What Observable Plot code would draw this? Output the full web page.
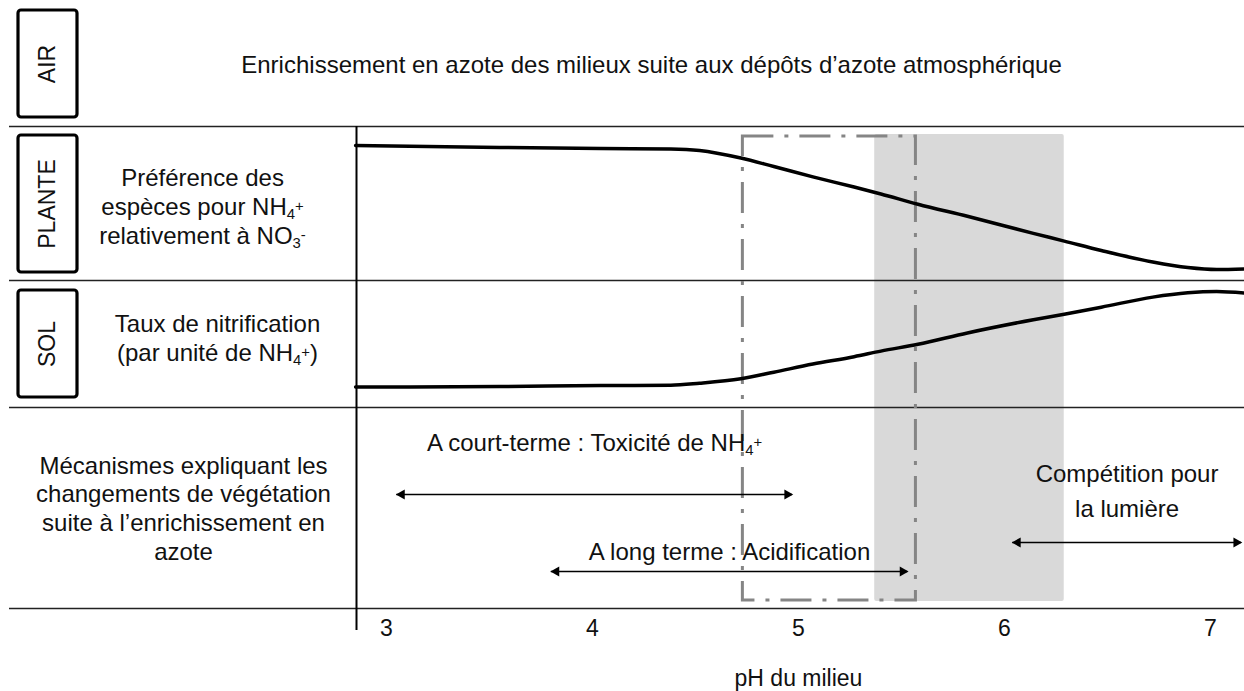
<!DOCTYPE html>
<html>
<head>
<meta charset="utf-8">
<script src="https://cdn.jsdelivr.net/npm/d3@7"></script>
<script src="https://cdn.jsdelivr.net/npm/@observablehq/plot@0.6"></script>
<style>
  html, body { margin: 0; padding: 0; background: #fff; }
  svg { display: block; }
</style>
</head>
<body>
<div id="chart"></div>
<script>
// ---------------- DATA ----------------
// pH axis tick labels
const phTicks = [3, 4, 5, 6, 7];
const axisTitle = "pH du milieu";

// pH sampling of the two curves
const curvePH = [2.85, 3.55, 4.04, 4.38, 4.52, 4.72, 4.88, 5.07, 5.27, 5.40, 5.58, 5.82, 6.14, 6.29, 6.47, 6.72, 6.89, 7.03, 7.17];
// PLANTE: preference for NH4+ relative to NO3- (relative level 0..1 within the row)
const planteLevel = [0.877, 0.864, 0.857, 0.854, 0.844, 0.795, 0.740, 0.673, 0.607, 0.562, 0.495, 0.417, 0.306, 0.256, 0.195, 0.120, 0.084, 0.071, 0.075];
// SOL: nitrification rate per unit NH4+ (relative level 0..1 within the row)
const solLevel = [0.161, 0.165, 0.173, 0.175, 0.191, 0.226, 0.278, 0.342, 0.400, 0.444, 0.498, 0.587, 0.691, 0.735, 0.790, 0.869, 0.903, 0.913, 0.900];

// pH ranges of the highlighted zones
const greyZone = [5.37, 6.29];
const dashedZone = [4.73, 5.57];

// mechanisms and their pH ranges
const mecLabels = ["A court-terme : Toxicité de NH₄⁺", "A long terme : Acidification", "Compétition pour\nla lumière"];
const mecFrom = [3.05, 3.80, 6.04];
const mecTo = [4.97, 5.53, 7.15];

// row labels
const rowNames = ["AIR", "PLANTE", "SOL"];
const rowTexts = [
  "Enrichissement en azote des milieux suite aux dépôts d’azote atmosphérique",
  "Préférence des\nespèces pour NH₄⁺\nrelativement à NO₃⁻",
  "Taux de nitrification\n(par unité de NH₄⁺)",
  "Mécanismes expliquant les\nchangements de végétation\nsuite à l’enrichissement en\nazote"
];

// ---------------- LAYOUT ----------------
const W = 1244, H = 691;
// horizontal calibration of the pH axis (pixel of pH 5 and pixels per pH unit)
const px5 = 798, pxPerUnit = 206;
const px2ph = px => 5 + (px - px5) / pxPerUnit;
const font = "Liberation Sans, Arial, Helvetica, sans-serif";

// row bands (diagram units, top to bottom)
const rows = { air: [0, 126], plante: [126, 280], sol: [280, 407], meca: [407, 608] };
const separators = [126, 280, 407, 608];
const boxY = [[10, 117], [135, 272], [290, 397]];
const boxX = [px2ph(18), px2ph(77)];
const textPos = [[651, 63], [202, 205], [217, 337], [183, 507]];
const mecArrowY = [494, 571, 542];
const mecTextY = [441, 550, 488];
const mecLineH = [1.2, 1.2, 1.46];
const zoneY = [134, 601];
const dashY = [136, 600];
const axisLineX = px2ph(356);

const bandY = (band, level) => band[1] - level * (band[1] - band[0]);

const planteData = curvePH.map((p, i) => ({ph: p, y: bandY(rows.plante, planteLevel[i])}));
const solData = curvePH.map((p, i) => ({ph: p, y: bandY(rows.sol, solLevel[i])}));
const mecData = mecLabels.map((l, i) => ({label: l, from: mecFrom[i], to: mecTo[i], ay: mecArrowY[i], ty: mecTextY[i]}));
const boxData = rowNames.map((n, i) => ({name: n, y1: boxY[i][0], y2: boxY[i][1]}));
const textData = rowTexts.map((t, i) => ({text: t, x: px2ph(textPos[i][0]), y: textPos[i][1]}));

const chart = Plot.plot({
  width: W,
  height: H,
  margin: 0,
  x: { domain: [px2ph(0), px2ph(W)], range: [0, W], axis: null },
  y: { domain: [0, H], range: [0, H], axis: null },
  style: { fontFamily: font, background: "#fff", color: "#111" },
  marks: [
    // grey zone
    Plot.rect([greyZone], { x1: d => d[0], x2: d => d[1], y1: zoneY[0], y2: zoneY[1], fill: "#d9d9d9", rx: 2 }),
    // row separators
    Plot.ruleY(separators, { x1: px2ph(9), x2: px2ph(W), stroke: "#222", strokeWidth: 1.6 }),
    // vertical axis line
    Plot.ruleX([axisLineX], { y1: rows.plante[0], y2: 630, stroke: "#000", strokeWidth: 2 }),
    // dash-dot zone
    Plot.rect([dashedZone], { x1: d => d[0], x2: d => d[1], y1: dashY[0], y2: dashY[1], fill: "none", stroke: "#858585", strokeWidth: 3, strokeDasharray: "31,11,4,11" }),
    // curves
    Plot.line(planteData, { x: "ph", y: "y", curve: "monotone-x", stroke: "#000", strokeWidth: 3.5 }),
    Plot.line(solData, { x: "ph", y: "y", curve: "monotone-x", stroke: "#000", strokeWidth: 3.5 }),
    // mechanism arrows
    Plot.ruleY(mecData, { x1: "from", x2: "to", y: "ay", stroke: "#000", strokeWidth: 1.3 }),
    Plot.dot(mecData, { x: "to", y: "ay", symbol: "triangle", r: 3.8, fill: "#000", stroke: null, rotate: 90, dx: -5 }),
    Plot.dot(mecData, { x: "from", y: "ay", symbol: "triangle", r: 3.8, fill: "#000", stroke: null, rotate: -90, dx: 5 }),
    ...mecData.map((d, i) => Plot.text([d], { x: d => (d.from + d.to) / 2, y: "ty", text: "label", fontSize: 24, lineHeight: mecLineH[i], fill: "#111" })),
    // row boxes
    Plot.rect(boxData, { x1: boxX[0], x2: boxX[1], y1: "y1", y2: "y2", fill: "none", stroke: "#000", strokeWidth: 3.2, rx: 3 }),
    Plot.text(boxData, { x: (boxX[0] + boxX[1]) / 2, y: d => (d.y1 + d.y2) / 2, text: "name", rotate: -90, fontSize: 23, fill: "#111" }),
    // row descriptions
    Plot.text(textData, { x: "x", y: "y", text: "text", fontSize: 24, lineHeight: 1.2, fill: "#111" }),
    // tick labels and axis title
    Plot.text(phTicks, { x: d => d, y: 628.5, text: d => String(d), fontSize: 23, fill: "#111" }),
    Plot.text([axisTitle], { x: (phTicks[0] + phTicks[phTicks.length - 1]) / 2, y: 678, text: d => d, fontSize: 23, fill: "#111" })
  ]
});

// render chemical sub/superscripts as real sub/superscript tspans
const subMap = {"₃": "3", "₄": "4"};
const supMap = {"⁺": "+", "⁻": "-"};
chart.querySelectorAll("text, tspan").forEach(node => {
  for (const child of Array.from(node.childNodes)) {
    if (child.nodeType !== 3) continue;
    const s = child.nodeValue;
    if (!/[₃₄⁺⁻]/.test(s)) continue;
    const frag = document.createDocumentFragment();
    let buf = "";
    for (const ch of s) {
      if (subMap[ch] || supMap[ch]) {
        if (buf) { frag.appendChild(document.createTextNode(buf)); buf = ""; }
        const t = document.createElementNS("http://www.w3.org/2000/svg", "tspan");
        t.setAttribute("font-size", "0.62em");
        t.setAttribute("baseline-shift", subMap[ch] ? "-0.3em" : "0.3em");
        t.textContent = subMap[ch] || supMap[ch];
        frag.appendChild(t);
      } else buf += ch;
    }
    if (buf) frag.appendChild(document.createTextNode(buf));
    node.replaceChild(frag, child);
  }
});

document.getElementById("chart").appendChild(chart);
</script>
</body>
</html>
